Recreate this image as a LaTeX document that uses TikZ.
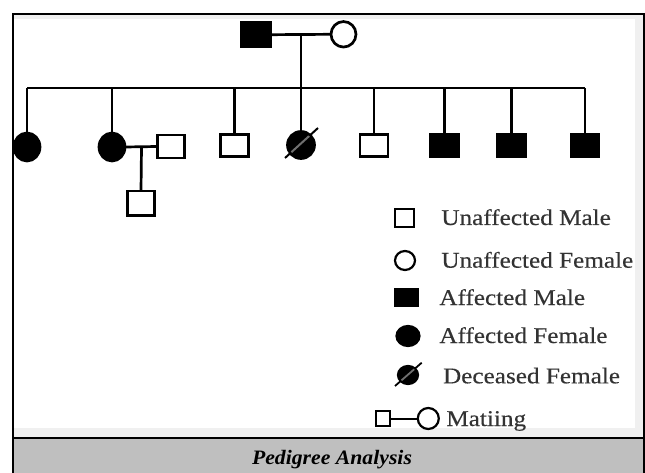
\documentclass[tikz,border=0pt]{standalone}
\usepackage{fontspec}
\setmainfont{Liberation Serif}
\newfontfamily\legfont[FakeStretch=1.12,FakeBold=0.3]{Liberation Serif}
\newfontfamily\capfont[FakeStretch=1.06]{Liberation Serif}
\usetikzlibrary{shapes.geometric}
\definecolor{capgrey}{HTML}{BFBFBF}
\definecolor{margrey}{HTML}{F0F0F0}
\definecolor{slashgrey}{HTML}{707070}
\begin{document}
\begin{tikzpicture}[x=1pt,y=-1pt,
  line width=2.7pt,
  male/.style={draw, rectangle, line width=2.7pt, minimum width=28pt, minimum height=22.5pt, inner sep=0pt, outer sep=0pt, fill=white},
  amale/.style={male, fill=black},
  fem/.style={draw, ellipse, line width=2.7pt, minimum width=26pt, minimum height=28pt, inner sep=0pt, outer sep=0pt, fill=white},
  afem/.style={fem, fill=black},
  lmale/.style={draw, rectangle, line width=2.2pt, inner sep=0pt, outer sep=0pt, fill=white},
  lfem/.style={draw, ellipse, line width=2.2pt, inner sep=0pt, outer sep=0pt, fill=white},
  leg/.style={anchor=base west, inner sep=0pt, font=\legfont\fontsize{22.5}{24}\selectfont, text=black!80},
  captext/.style={anchor=base, inner sep=0pt, font=\capfont\fontsize{20.5}{22}\selectfont\bfseries\itshape, text=black},
]
\useasboundingbox (0,0) rectangle (645,473);
% frame and background
\fill[margrey] (12.8,13.7) rectangle (643.5,438);
\fill[white] (13.8,19) rectangle (635,428.3);
\fill[capgrey] (12.8,438) rectangle (643.5,473);
\draw[line width=2pt] (12.8,473) -- (12.8,13.7) -- (643.5,13.7) -- (643.5,473);
\draw[line width=2pt] (12.8,438.2) -- (643.5,438.2);
\node[captext] (caption) at (332,464.3) {Pedigree Analysis};

% parents
\node[amale, minimum width=29pt, minimum height=24pt] (pm) at (256,34.7) {};
\node[fem, minimum width=25pt, minimum height=25.5pt] (pf) at (343.5,34.3) {};
\coordinate (m1) at (301,35);
\draw (pm.east) -- (pf.west);
\coordinate (sL) at (27,88);
\coordinate (sR) at (585,88);
\draw (m1) -- (m1 |- sL);
\draw (sL) -- (sR);

% children
\node[afem] (c1) at (27,147) {};
\node[afem] (c2) at (112,147) {};
\node[male] (c3) at (234.5,145.5) {};
\node[afem, minimum width=27pt, minimum height=27pt] (c4) at (301,145) {};
\node[male] (c5) at (374,145.5) {};
\node[amale] (c6) at (444.5,145.5) {};
\node[amale] (c7) at (511.5,145.5) {};
\node[amale] (c8) at (585,145.5) {};
\foreach \c in {c1,c2,c3,c4,c5,c6,c7,c8} {
  \draw (\c.north) -- (\c.north |- sL);
}
% deceased slash
\draw[line width=2pt] ([shift={(-16,13)}]c4.center) -- ([shift={(17,-17)}]c4.center);
\begin{scope}
  \clip (c4.center) ellipse [x radius=12.2pt, y radius=12.2pt];
  \draw[slashgrey, line width=2pt] ([shift={(-16,13)}]c4.center) -- ([shift={(17,-17)}]c4.center);
\end{scope}

% child 2 mating and offspring
\node[male, minimum width=27.5pt, minimum height=23pt] (sp) at (171,146.5) {};
\draw (c2.east) -- (sp.west);
\coordinate (m2) at (141.5,147.5);
\node[male, minimum width=27pt, minimum height=24.5pt] (gc) at (141,203.3) {};
\draw (m2) -- (gc.north);

% legend
\node[lmale, minimum width=19pt, minimum height=18pt] (l1) at (404.5,218) {};
\node[leg] (t1) at (440,225) {Unaffected Male};
\node[lfem, minimum width=20pt, minimum height=19pt] (l2) at (405,260.5) {};
\node[leg] (t2) at (440,267.7) {Unaffected Female};
\node[lmale, fill=black, minimum width=23pt, minimum height=17pt] (l3) at (406.7,297.8) {};
\node[leg] (t3) at (438,305) {Affected Male};
\node[lfem, fill=black, minimum width=23pt, minimum height=20pt] (l4) at (408,336) {};
\node[leg] (t4) at (438,343) {Affected Female};
\node[lfem, fill=black, minimum width=20pt, minimum height=18pt] (l5) at (408,375) {};
\draw[line width=1.8pt] ([shift={(-13,11)}]l5.center) -- ([shift={(13.7,-12.3)}]l5.center);
\begin{scope}
  \clip (l5.center) ellipse [x radius=9pt, y radius=8pt];
  \draw[slashgrey, line width=1.8pt] ([shift={(-13,11)}]l5.center) -- ([shift={(13.7,-12.3)}]l5.center);
\end{scope}
\node[leg] (t5) at (441.7,383.3) {Deceased Female};
\node[lmale, minimum width=14pt, minimum height=15pt] (l6a) at (383,418.5) {};
\node[lfem, minimum width=21pt, minimum height=21pt] (l6b) at (428.3,418.5) {};
\draw[line width=2pt] (l6a.east) -- (l6b.west);
\node[leg] (t6) at (445,426) {Matiing};
\end{tikzpicture}
\end{document}
